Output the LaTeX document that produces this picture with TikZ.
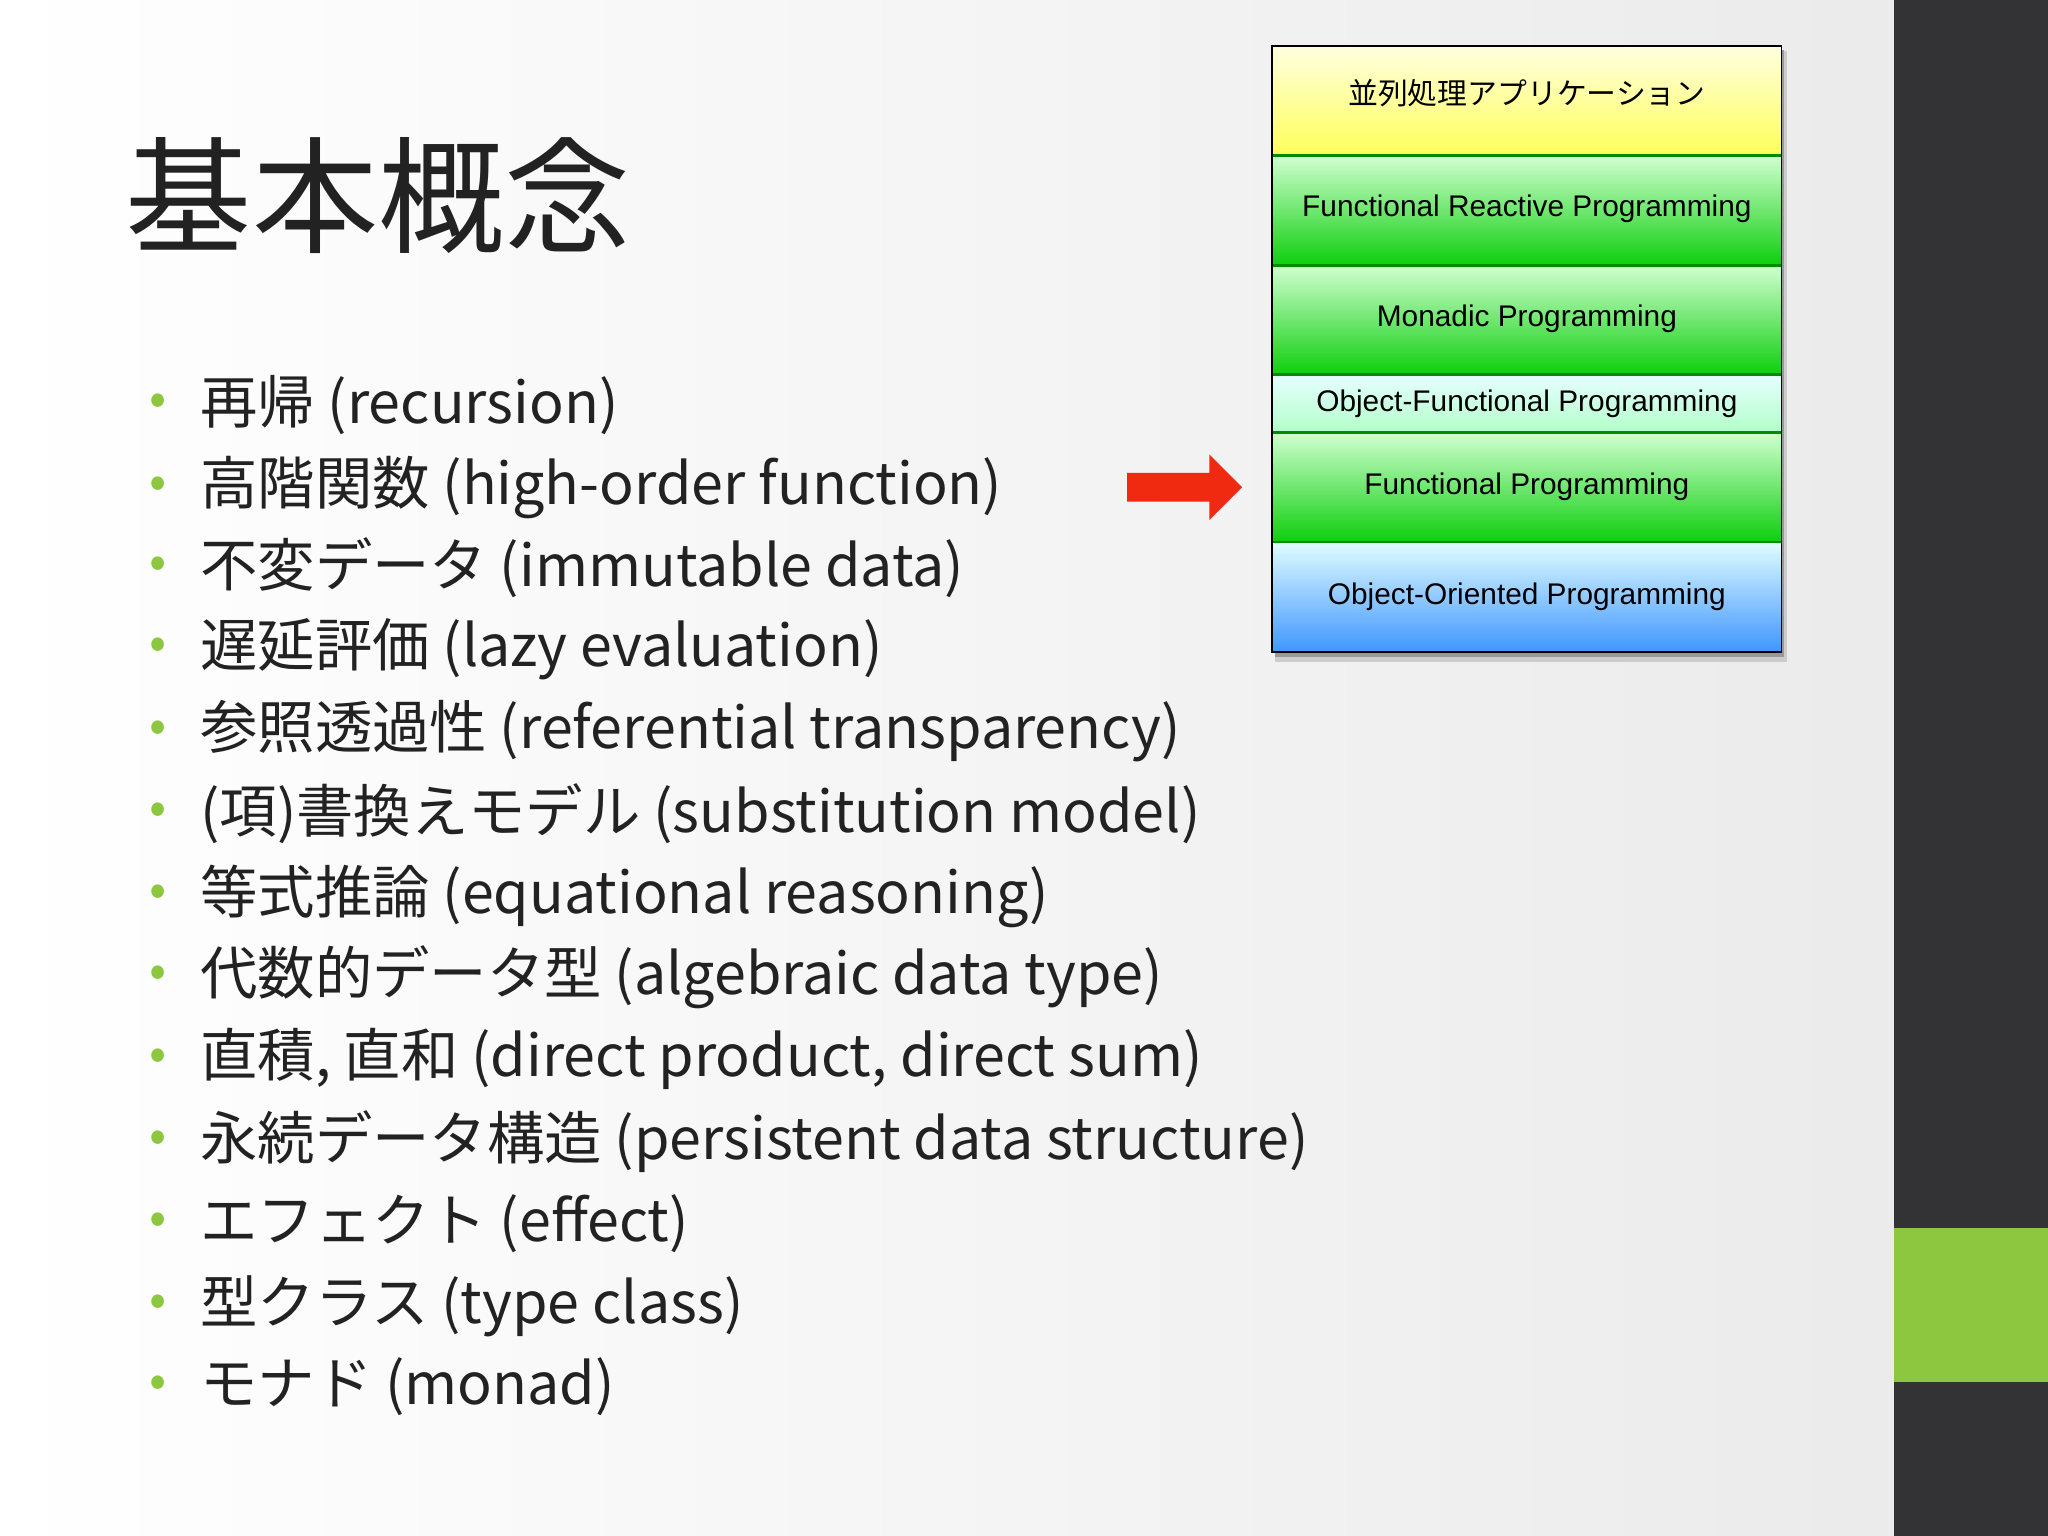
\documentclass[tikz,border=0pt]{standalone}
\usepackage{fontspec}
\setmainfont{Noto Sans CJK JP}
\newfontfamily\boxfont{Liberation Sans}
\definecolor{barcol}{HTML}{333336}
\definecolor{lime}{HTML}{8DC63F}
\definecolor{inkcol}{HTML}{222222}
\definecolor{redarrow}{HTML}{F02A10}
\tikzset{
  item/.style={anchor=west,text=inkcol,font=\fontsize{25}{30}\selectfont,inner sep=0pt},
  dot/.style={text=lime,font=\fontsize{22}{26}\selectfont,inner sep=0pt},
  layer/.style={anchor=center,font=\boxfont\fontsize{13}{15}\selectfont,inner sep=0pt},
  greenrow/.style={top color=green!18!white,bottom color=green!80!black!95},
}
\begin{document}
\begin{tikzpicture}[x=0.02cm,y=-0.02cm]

	\useasboundingbox (0,0) rectangle (1568,1176);
	\shade[left color=white,right color=black!8] (0,0) rectangle (1450,1176);
	\fill[barcol] (1450,0) rectangle (1568,1176);
	\fill[lime] (1450,940) rectangle (1568,1058);

	\node[anchor=west,text=inkcol,font=\fontsize{55}{60}\selectfont,inner sep=0pt] (title) at (96,150) {基本概念};

	\node[dot] (d1) at (121,310) {•};
	\node[item] (i1) at (153,310) {再帰 (recursion)};
	\node[dot] (d2) at (121,373) {•};
	\node[item] (i2) at (153,373) {高階関数 (high-order function)};
	\node[dot] (d3) at (121,435) {•};
	\node[item] (i3) at (153,435) {不変データ (immutable data)};
	\node[dot] (d4) at (121,497) {•};
	\node[item] (i4) at (153,497) {遅延評価 (lazy evaluation)};
	\node[dot] (d5) at (121,560) {•};
	\node[item] (i5) at (153,560) {参照透過性 (referential transparency)};
	\node[dot] (d6) at (121,623) {•};
	\node[item] (i6) at (153,623) {(項)書換えモデル (substitution model)};
	\node[dot] (d7) at (121,686) {•};
	\node[item] (i7) at (153,686) {等式推論 (equational reasoning)};
	\node[dot] (d8) at (121,748) {•};
	\node[item] (i8) at (153,748) {代数的データ型 (algebraic data type)};
	\node[dot] (d9) at (121,811) {•};
	\node[item] (i9) at (153,811) {直積, 直和 (direct product, direct sum)};
	\node[dot] (d10) at (121,874) {•};
	\node[item] (i10) at (153,874) {永続データ構造 (persistent data structure)};
	\node[dot] (d11) at (121,937) {•};
	\node[item] (i11) at (153,937) {エフェクト (effect)};
	\node[dot] (d12) at (121,1000) {•};
	\node[item] (i12) at (153,1000) {型クラス (type class)};
	\node[dot] (d13) at (121,1062) {•};
	\node[item] (i13) at (153,1062) {モナド (monad)};

	% layer stack
	\fill[black!20] (976,39) rectangle (1368,507);
	\fill[black!40] (976,38) rectangle (1366,503);
	\shade[top color=yellow!12,bottom color=yellow!65] (974,35) rectangle (1364,119);
	\shade[greenrow] (974,119) rectangle (1364,203);
	\shade[greenrow] (974,203) rectangle (1364,287);
	\shade[top color=cyan!10!white,bottom color=cyan!30!green!30] (974,287) rectangle (1364,331);
	\shade[greenrow] (974,331) rectangle (1364,415);
	\shade[top color=blue!8!cyan!12,bottom color=blue!55!cyan!75] (974,415) rectangle (1364,499);
	\foreach \y in {119,203,287,331,415} \draw[green!55!black,line width=1.2pt] (974,\y) -- (1364,\y);
	\draw[black,thick] (974,35) rectangle (1364,499);

	\node[layer,font=\fontsize{13}{15}\selectfont] (app) at (1169,71) {並列処理アプリケーション};
	\node[layer] (frp) at (1169,160) {Functional Reactive Programming};
	\node[layer] (monadic) at (1169,244) {Monadic Programming};
	\node[layer] (ofp) at (1169,309) {Object-Functional Programming};
	\node[layer] (fp) at (1169,373) {Functional Programming};
	\node[layer] (oop) at (1169,457) {Object-Oriented Programming};

	% pointer
	\fill[redarrow] (863,362) -- (926,362) -- (926,348) -- (951,373) -- (926,398) -- (926,384) -- (863,384) -- cycle;

\end{tikzpicture}
\end{document}
